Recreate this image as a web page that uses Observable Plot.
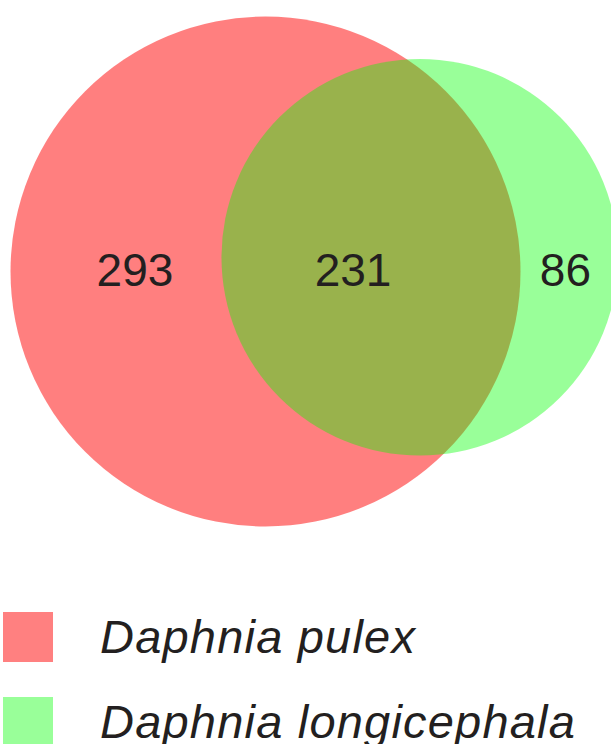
<!DOCTYPE html>
<html>
<head>
<meta charset="utf-8">
<script src="https://cdn.jsdelivr.net/npm/d3@7"></script>
<script src="https://cdn.jsdelivr.net/npm/@observablehq/plot@0.6"></script>
<style>
  html, body { margin: 0; padding: 0; background: #fff; overflow: hidden; }
  #chart svg { overflow: hidden; }
  .legend { margin-top: 12px; font-family: "Liberation Sans", Arial, sans-serif; }
  .row { display: flex; align-items: center; height: 50px; margin-bottom: 35px; }
  .sw { width: 50px; height: 50px; margin-left: 3px; margin-right: 47px; flex: none; }
  .lab { font-style: italic; font-size: 47px; letter-spacing: 1.2px; line-height: 50px; color: #231f20; white-space: nowrap; }
</style>
</head>
<body>
<div id="chart"></div>
<div class="legend" id="legend"></div>
<script>
// ---- data ----
const setNames = ["Daphnia pulex", "Daphnia longicephala"];
const uniqueCounts = [293, 86];
const sharedCount = 231;

// ---- layout ----
const W = 611, H = 600;
const totals = uniqueCounts.map(c => c + sharedCount);
const r1 = Math.sqrt(totals[0]), r2 = Math.sqrt(totals[1]);   // units: area = pi * count
const k = 255 / r1;                                             // pixels per unit
const cx0 = 265, cy0 = 271;                                     // red centre (pixels)
const tilt = Math.atan2(-14, 152);

function lensArea(d) {
  if (d >= r1 + r2) return 0;
  if (d <= Math.abs(r1 - r2)) return Math.PI * Math.min(r1, r2) ** 2;
  const a1 = Math.acos((d * d + r1 * r1 - r2 * r2) / (2 * d * r1));
  const a2 = Math.acos((d * d + r2 * r2 - r1 * r1) / (2 * d * r2));
  return r1 * r1 * (a1 - Math.sin(a1) * Math.cos(a1)) + r2 * r2 * (a2 - Math.sin(a2) * Math.cos(a2));
}
let lo = Math.abs(r1 - r2), hi = r1 + r2;
const target = Math.PI * sharedCount;
for (let i = 0; i < 100; i++) {
  const mid = (lo + hi) / 2;
  if (lensArea(mid) > target) lo = mid; else hi = mid;
}
const d = (lo + hi) / 2;
const dx = d * Math.cos(tilt), dy = d * Math.sin(tilt);

const circles = [
  {name: setNames[0], x: 0, y: 0, total: totals[0]},
  {name: setNames[1], x: dx, y: dy, total: totals[1]}
];

const redLeft = -r1, redRight = r1, greenLeft = dx - r2, greenRight = dx + r2;
const labels = [
  {x: redLeft + 0.59 * (greenLeft - redLeft), y: 0, text: String(uniqueCounts[0])},
  {x: greenLeft + 0.44 * (redRight - greenLeft), y: 0, text: String(sharedCount)},
  {x: redRight + 0.46 * (greenRight - redRight), y: 0, text: String(uniqueCounts[1])}
];

const fills = ["#ff0000", "#00ff00"];
const opac = [0.5, 0.4];

const plot = Plot.plot({
  width: W, height: H,
  margin: 0,
  x: {domain: [-cx0 / k, (W - cx0) / k], range: [0, W], axis: null},
  y: {domain: [-cy0 / k, (H - cy0) / k], range: [0, H], axis: null},
  r: {type: "sqrt", domain: [0, 1], range: [0, k]},
  style: {background: "white", overflow: "hidden"},
  marks: [
    Plot.dot([circles[0]], {x: "x", y: "y", r: "total", fill: fills[0], fillOpacity: opac[0], stroke: "none"}),
    Plot.dot([circles[1]], {x: "x", y: "y", r: "total", fill: fills[1], fillOpacity: opac[1], stroke: "none"}),
    Plot.text(labels, {x: "x", y: "y", text: "text", fontSize: 46, fill: "#231f20",
      fontFamily: "Liberation Sans, Arial, sans-serif", textAnchor: "middle"})
  ]
});
document.getElementById("chart").appendChild(plot);

const legendColors = ["#ff8080", "#99ff99"];
const leg = document.getElementById("legend");
setNames.forEach((n, i) => {
  const row = document.createElement("div");
  row.className = "row";
  const sw = document.createElement("div");
  sw.className = "sw";
  sw.style.background = legendColors[i];
  const lab = document.createElement("div");
  lab.className = "lab";
  lab.textContent = n;
  row.appendChild(sw); row.appendChild(lab);
  leg.appendChild(row);
});
</script>
</body>
</html>
